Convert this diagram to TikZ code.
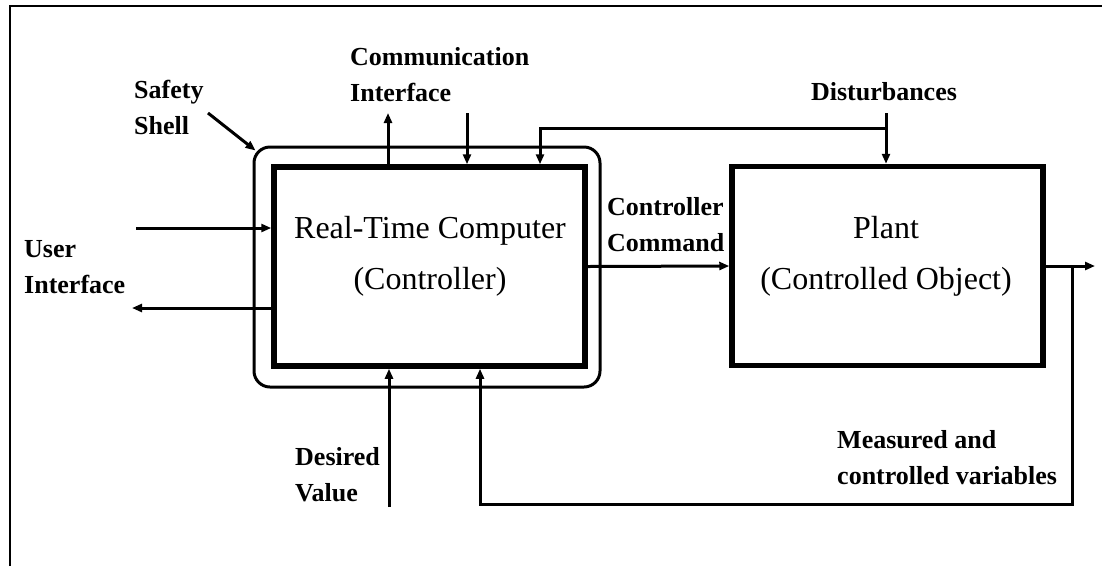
\documentclass[tikz,border=0pt]{standalone}
\usepackage{fontspec}
\setmainfont{Liberation Serif}
\usetikzlibrary{arrows.meta}

\begin{document}
\begin{tikzpicture}[x=1pt,y=-1pt,
  >={Triangle[length=10pt,width=8pt]},
  wire/.style={line width=3pt},
  block/.style={draw,line width=5.5pt,minimum width=311pt,minimum height=199pt},
  shellbox/.style={draw,line width=3pt,rounded corners=16pt,minimum width=346pt,minimum height=240pt},
  lbl/.style={font=\bfseries\fontsize{26}{36}\selectfont,align=left,anchor=north west,inner sep=0pt},
  big/.style={font=\fontsize{32}{51}\selectfont,align=center,anchor=north,inner sep=0pt}]
\useasboundingbox (0,0) rectangle (1102,566);
\draw[line width=2.5pt] (10,566) -- (10,6) -- (1102,6);
% shell and the two blocks
\node[shellbox] (shell) at (427,267) {};
\node[block] (cpu) at (429.5,266.5) {};
\node[block] (plant) at (887.5,266) {};
\node[big] (cputext) at (430,216) {Real-Time Computer\\(Controller)};
\node[big] (planttext) at (886,216) {Plant\\(Controlled Object)};
% labels
\node[lbl] (safety) at (134,80) {Safety\\Shell};
\node[lbl] (comm) at (350,47) {Communication\\Interface};
\node[lbl,anchor=north] (dist) at (884,82) {Disturbances};
\node[lbl] (user) at (24,240) {User\\Interface};
\node[lbl] (cmd) at (607,197) {Controller\\Command};
\node[lbl] (desired) at (295,447) {Desired\\Value};
\node[lbl] (meas) at (837,430) {Measured and\\controlled variables};
% free ends
\coordinate (ss) at (208,113); \coordinate (uiin) at (136,228); \coordinate (uiout) at (132,308);
\coordinate (ciup) at (388,113); \coordinate (cidn) at (467,113);
\coordinate (dtop) at (886,113); \coordinate (dbr) at (886,128); \coordinate (dcpu) at (540,128);
\coordinate (out) at (1095,265); \coordinate (fb) at (1072,504); \coordinate (fbcpu) at (480,504);
\coordinate (dv) at (389,507);
% connectors
\draw[wire,->] (ss) -- ([shift={(3,5)}]shell.north west);
\draw[wire,->] (uiin) -- (uiin -| cpu.west);
\draw[wire,->] (uiout -| cpu.west) -- (uiout);
\draw[wire,->] (ciup |- cpu.north) -- (ciup);
\draw[wire,->] (cidn) -- (cidn |- cpu.north);
\draw[wire,->] (dtop) -- (dtop |- plant.north);
\draw[wire,->] (dbr) -- (dcpu) -- (dcpu |- cpu.north);
\draw[wire,->] (cpu.east) -- (plant.west);
\draw[wire,->] (plant.east) -- (plant.east -| out);
\draw[wire,->] (fb |- plant.east) -- (fb) -- (fbcpu) -- (fbcpu |- cpu.south);
\draw[wire,->] (dv) -- (dv |- cpu.south);
\end{tikzpicture}
\end{document}
